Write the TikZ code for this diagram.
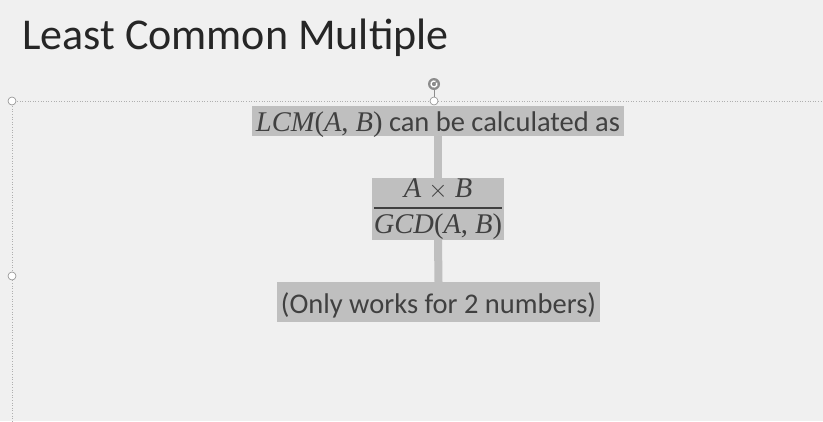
\documentclass[tikz,border=0pt]{standalone}
\usepackage{fontspec}
\setmainfont{Carlito}
\newfontfamily\cambfont{Liberation Serif}
\definecolor{bgc}{HTML}{F0F0F0}
\definecolor{boxc}{HTML}{BFBFBF}
\definecolor{txtc}{HTML}{404040}
\definecolor{hand}{HTML}{8C8C8C}
\begin{document}
\begin{tikzpicture}[x=1pt,y=-1pt,
  gbox/.style={rectangle,fill=boxc,inner sep=0pt,text=txtc,align=center,font=\fontsize{28.5}{32}\selectfont},
  conn/.style={draw=boxc,line width=8pt},
  guide/.style={draw=hand!70,line width=0.6pt,dotted},
  handle/.style={circle,draw=hand,fill=white,line width=0.6pt,inner sep=0pt,minimum size=8pt},
  rothandle/.style={circle,fill=hand,inner sep=0pt,minimum size=12pt}]
\fill[bgc] (0,0) rectangle (823,421);
\useasboundingbox (0,0) rectangle (823,421);
% title
\node[anchor=base west,inner sep=0pt,font=\fontsize{44}{50}\selectfont,text=black!85] (title) at (22,49) {Least Common Multiple};
% selection frame
\coordinate (fl) at (12,101);
\coordinate (fr) at (823,101);
\coordinate (fb) at (12,421);
\draw[guide] (fl) -- (fr);
\draw[guide] (fl) -- (fb);
\node[rothandle] (rot) at (434,84) {};
\draw[white,line width=1.3pt] ([shift={(60:3pt)}]rot.center) arc[start angle=60,end angle=390,radius=3pt];
\node[handle] (htop) at (434,101) {};
\draw[hand,line width=0.9pt] (rot.south) -- (htop.north);
\node[handle] (htl) at (12,101) {};
\node[handle] (hml) at (12,276) {};
% boxes
\node[gbox,minimum width=372pt,text height=25pt,text depth=5pt] (b1) at (438,121)
  {{\cambfont\itshape LCM}{\cambfont(\itshape A\upshape, \itshape B\upshape)} can be calculated as};
\node[gbox,minimum width=132pt,minimum height=62pt] (b2) at (438,209)
  {$\displaystyle{\hbox{\cambfont\itshape A \upshape$\times$ \itshape B}\above 1.6pt \hbox{\cambfont\itshape GCD\upshape(\itshape A\upshape, \itshape B\upshape)}}$};
\node[gbox,minimum width=323pt,text height=31pt,text depth=9pt] (b3) at (438.5,302) {(Only works for 2 numbers)};
\draw[conn] (b1.south) -- (b2.north);
\draw[conn] (b2.south) -- (b3.north);
\end{tikzpicture}
\end{document}
